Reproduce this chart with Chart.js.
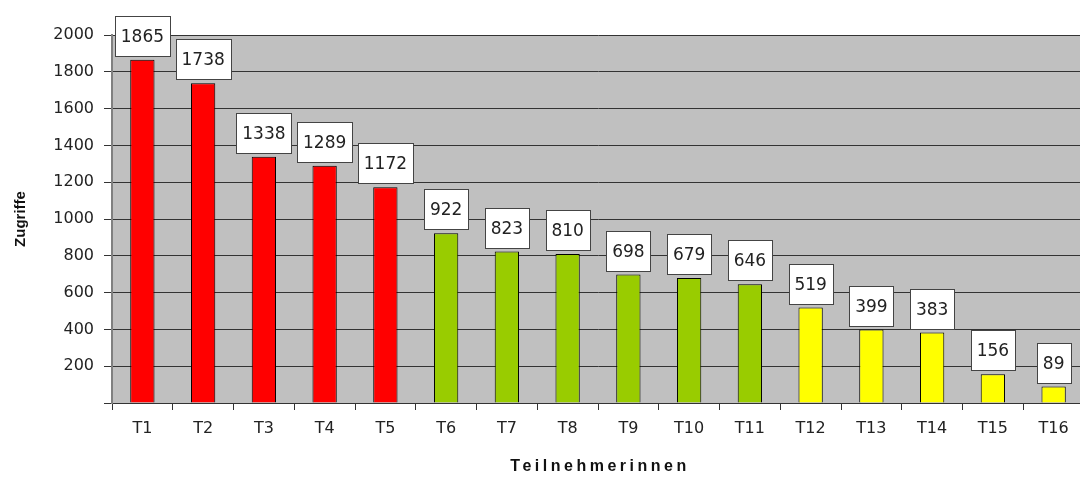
<!DOCTYPE html>
<html>
<head>
<meta charset="utf-8">
<script src="https://cdn.jsdelivr.net/npm/chart.js@4"></script>
<style>
  html, body { margin: 0; padding: 0; background: #fff; overflow: hidden; }
  #wrap { width: 1084px; height: 477px; }
</style>
</head>
<body>
<div id="wrap"><canvas id="myChart" width="1084" height="477"></canvas></div>
<script>
// Daten
const kategorien = ['T1', 'T2', 'T3', 'T4', 'T5', 'T6', 'T7', 'T8', 'T9', 'T10', 'T11', 'T12', 'T13', 'T14', 'T15', 'T16'];
const zugriffe = [1865, 1738, 1338, 1289, 1172, 922, 823, 810, 698, 679, 646, 519, 399, 383, 156, 89];
const farben = ['#FF0000', '#FF0000', '#FF0000', '#FF0000', '#FF0000',
  '#99CC00', '#99CC00', '#99CC00', '#99CC00', '#99CC00', '#99CC00',
  '#FFFF00', '#FFFF00', '#FFFF00', '#FFFF00', '#FFFF00'];
const yTicks = [0, 200, 400, 600, 800, 1000, 1200, 1400, 1600, 1800, 2000];

const FONT = '"DejaVu Sans", Verdana, sans-serif';
const FONT_B = 'Arial, "Liberation Sans", sans-serif';

// grauer Hintergrund der Zeichenfläche
const hintergrund = {
  id: 'hintergrund',
  beforeDraw(chart) {
    const { ctx, chartArea: a } = chart;
    ctx.save();
    ctx.fillStyle = '#C0C0C0';
    ctx.fillRect(a.left, a.top, a.right - a.left, a.bottom - a.top);
    ctx.restore();
  },
};

// Wertbeschriftungen in weißen Kästchen
const beschriftung = {
  id: 'beschriftung',
  afterDatasetsDraw(chart) {
    const { ctx } = chart;
    const meta = chart.getDatasetMeta(0);
    ctx.save();
    ctx.font = '17px ' + FONT;
    ctx.textAlign = 'center';
    ctx.textBaseline = 'middle';
    meta.data.forEach((bar, i) => {
      const txt = String(zugriffe[i]);
      const w = Math.round(ctx.measureText(txt).width) + 12;
      const h = 40;
      const x = Math.round(bar.x - w / 2) + 0.5;
      const y = Math.round(bar.y - 4 - h) + 0.5;
      ctx.fillStyle = '#FFFFFF';
      ctx.fillRect(x, y, w, h);
      ctx.strokeStyle = '#444';
      ctx.lineWidth = 1;
      ctx.strokeRect(x, y, w, h);
      ctx.fillStyle = '#222';
      ctx.fillText(txt, bar.x, y + h / 2 + 1);
    });
    ctx.restore();
  },
};

// x-Achsentitel mit Sperrung
const xTitel = {
  id: 'xTitel',
  afterDraw(chart) {
    const { ctx, chartArea: a } = chart;
    ctx.save();
    ctx.font = 'bold 16px ' + FONT_B;
    ctx.letterSpacing = '3.5px';
    ctx.textAlign = 'center';
    ctx.textBaseline = 'middle';
    ctx.fillStyle = '#111';
    ctx.fillText('Teilnehmerinnen', (a.left + a.right) / 2 + 2, 467);
    ctx.restore();
  },
};

const ctx = document.getElementById('myChart');
const myChart = new Chart(ctx, {
  type: 'bar',
  data: {
    labels: kategorien,
    datasets: [
      {
        label: 'Zugriffe',
        data: zugriffe,
        backgroundColor: farben,
        borderColor: '#000000',
        borderWidth: 1,
        categoryPercentage: 1,
        barPercentage: 0.4,
      },
    ],
  },
  options: {
    responsive: false,
    animation: false,
    layout: { padding: { top: 35, right: 0, left: 0, bottom: 0 } },
    plugins: {
      legend: { display: false },
      tooltip: { enabled: false },
    },
    scales: {
      x: {
        grid: {
          offset: true,
          drawOnChartArea: false,
          tickLength: 7,
          tickColor: '#333',
        },
        border: { color: '#333', width: 1 },
        ticks: {
          color: '#222',
          font: { family: FONT, size: 16 },
          padding: 9,
          maxRotation: 0,
        },
        afterFit(scale) { scale.height = 74; },
      },
      y: {
        min: 0,
        max: 2000,
        afterBuildTicks(scale) { scale.ticks = yTicks.map((v) => ({ value: v })); },
        grid: {
          color: '#333',
          tickLength: 8,
          tickColor: '#333',
        },
        border: { color: '#808080', width: 2 },
        ticks: {
          color: '#222',
          font: { family: FONT, size: 16 },
          padding: 10,
          callback: (v) => (v === 0 ? '' : v),
        },
        title: {
          display: true,
          text: 'Zugriffe',
          color: '#111',
          font: { family: FONT_B, size: 15, weight: 'bold' },
          padding: { top: 12, bottom: 0 },
        },
        afterFit(scale) { scale.width = 112; },
      },
    },
  },
  plugins: [hintergrund, beschriftung, xTitel],
});
</script>
</body>
</html>
